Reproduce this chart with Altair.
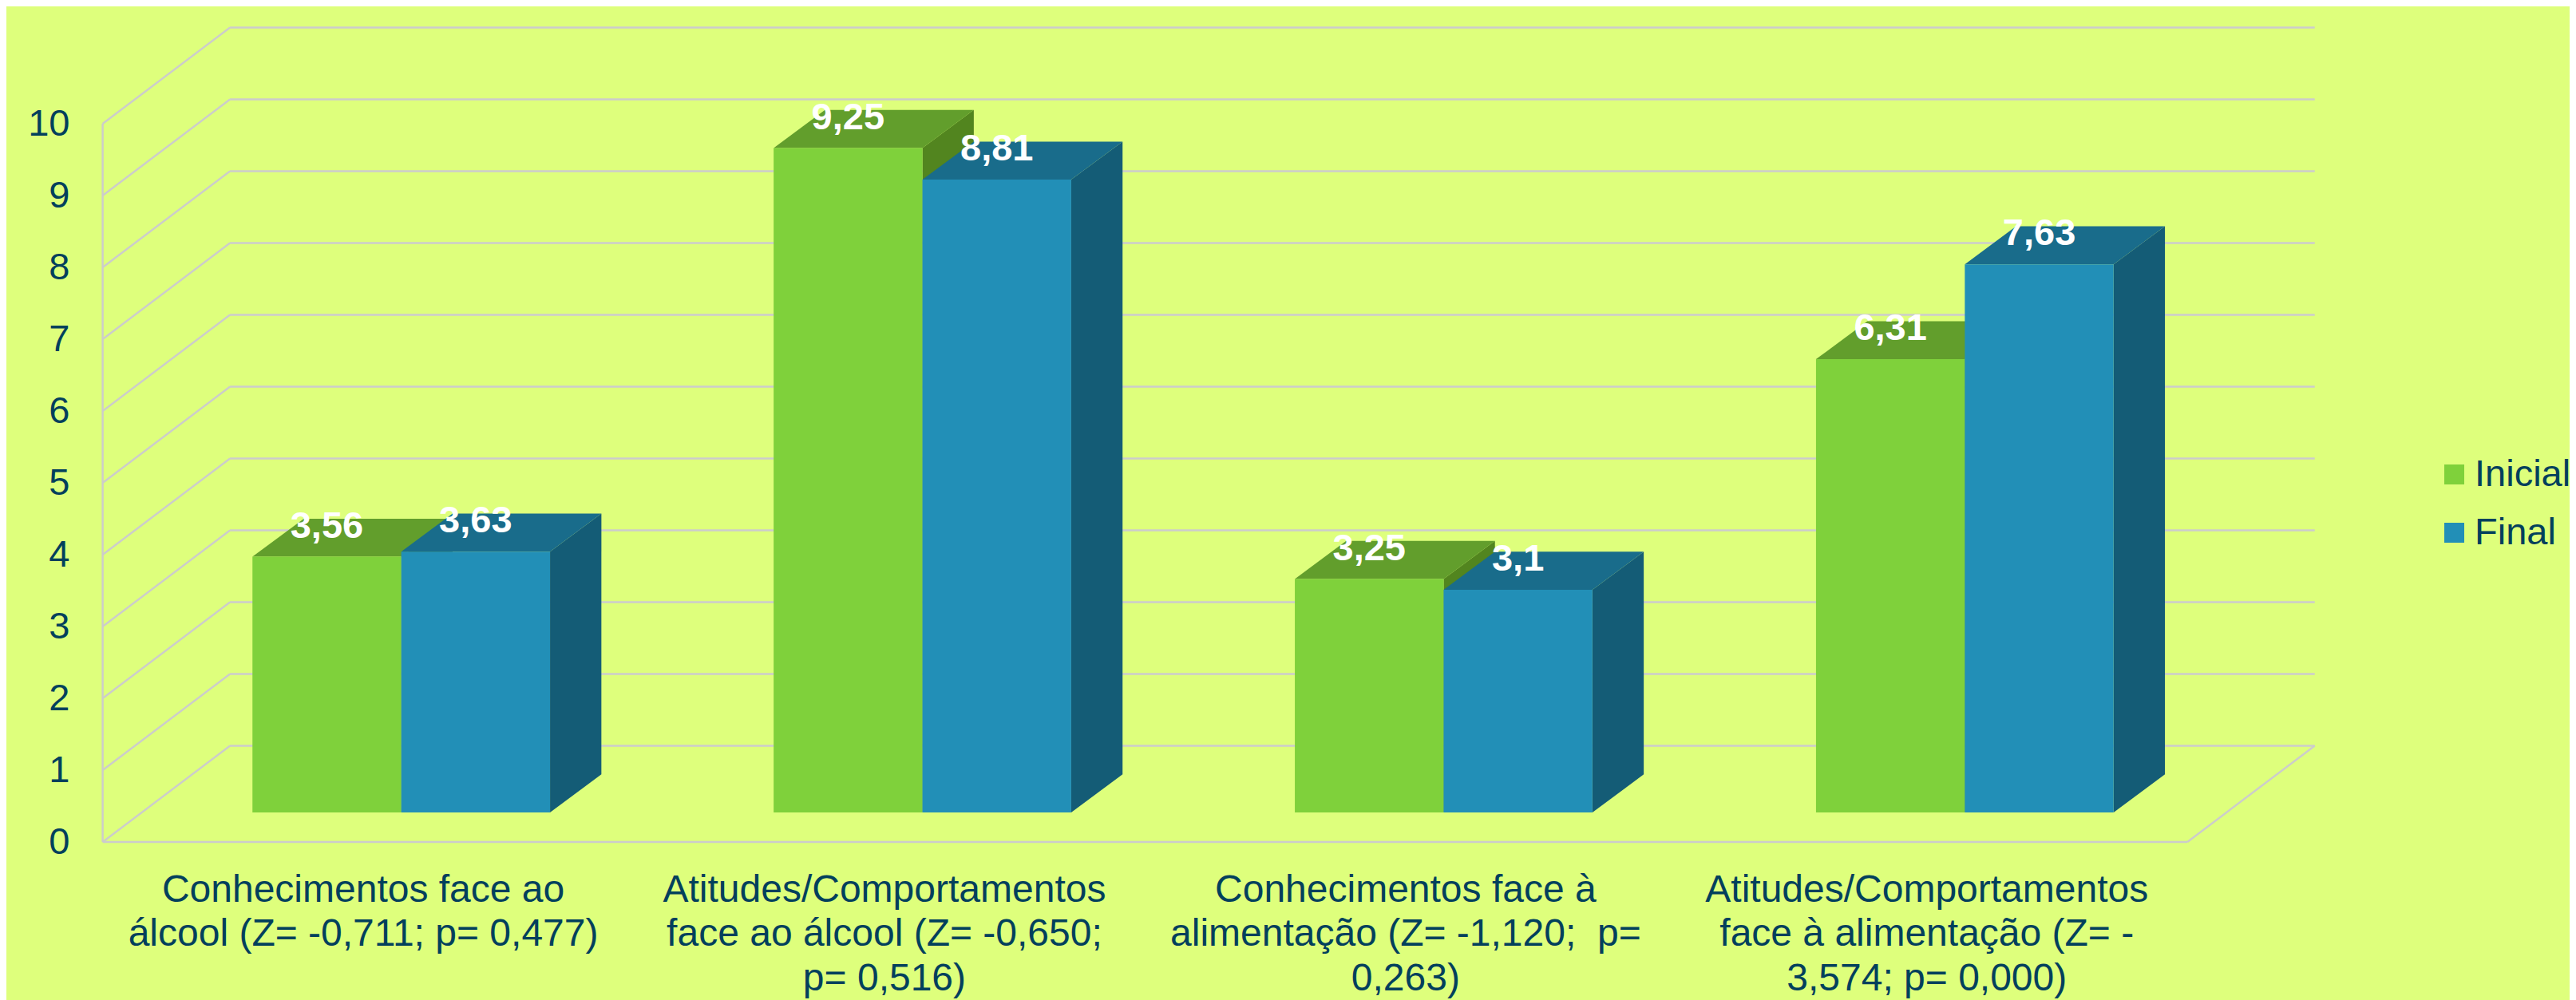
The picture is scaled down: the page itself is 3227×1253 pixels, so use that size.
import altair as alt
import pandas as pd

# ---- values ----
categories = [
    "Conhecimentos face ao\nálcool (Z= -0,711; p= 0,477)",
    "Atitudes/Comportamentos\nface ao álcool (Z= -0,650;\np= 0,516)",
    "Conhecimentos face à\nalimentação (Z= -1,120;\u00a0 p=\n0,263)",
    "Atitudes/Comportamentos\nface à alimentação (Z= -\n3,574; p= 0,000)",
]
series_names = ["Inicial", "Final"]
inicial = [3.56, 9.25, 3.25, 6.31]
final = [3.63, 8.81, 3.10, 7.63]
value_labels = {"Inicial": ["3,56", "9,25", "3,25", "6,31"],
                "Final": ["3,63", "8,81", "3,1", "7,63"]}
ticks = list(range(0, 11))

# ---- colours ----
BG = "#deff7c"
INK = "#02405c"
GRID = "#cccccc"
FRONT = ["#7fd13b", "#228fb7"]
TOP = ["#629e2c", "#196c8b"]
SIDE = ["#52851f", "#145c76"]

# ---- layout: chart size and scale domains (category units / value units) ----
W, H = 3211, 1245
PX_PER_CAT = 652.9
PX_PER_VAL = 90.0
X0, Y0 = 120.6, 1047.0           # where category 0 / value 0 fall on the front plane
x_domain = [-X0 / PX_PER_CAT, (W - X0) / PX_PER_CAT]
y_domain = [-(H - Y0) / PX_PER_VAL, Y0 / PX_PER_VAL]
x_scale = alt.Scale(domain=x_domain, range=[0, W], nice=False, zero=False)
y_scale = alt.Scale(domain=y_domain, range=[H, 0], nice=False, zero=False)

# 3-D projection offsets
WALL_DX, WALL_DY = 159.5 / PX_PER_CAT, 120.5 / PX_PER_VAL
BAR_X = 47.6 / PX_PER_CAT         # shift of bar front from the axis plane
BAR_Y = 37.0 / PX_PER_VAL
BAR_DX, BAR_DY = 64.3 / PX_PER_CAT, 47.7 / PX_PER_VAL
BAR_W = 186.4 / PX_PER_CAT
N = len(categories)

# ---- grid ----
grid_rows = []
for t in ticks:
    grid_rows.append(dict(x=0, x2=WALL_DX, y=t, y2=t + WALL_DY))                 # left wall
    grid_rows.append(dict(x=WALL_DX, x2=N + WALL_DX, y=t + WALL_DY, y2=t + WALL_DY))  # back wall
grid_rows.append(dict(x=0, x2=0, y=0, y2=ticks[-1]))                             # front vertical
grid_rows.append(dict(x=0, x2=N, y=0, y2=0))                                     # floor front
grid_rows.append(dict(x=N, x2=N + WALL_DX, y=0, y2=WALL_DY))                     # floor right
grid = pd.DataFrame(grid_rows)

# ---- bars ----
front_rows, top_rows, side_rows, label_rows = [], [], [], []
for s, vals in enumerate([inicial, final]):
    name = series_names[s]
    for i, v in enumerate(vals):
        left = i + 0.5 + BAR_X + (s - 1) * BAR_W
        right = left + BAR_W
        bid = f"{name}{i}"
        front_rows.append(dict(series=name, x=left, x2=right, y=BAR_Y, y2=BAR_Y + v))
        top_rows += [
            dict(s=s, bar=bid, y=BAR_Y + v, x=left, x2=right),
            dict(s=s, bar=bid, y=BAR_Y + v + BAR_DY, x=left + BAR_DX, x2=right + BAR_DX),
        ]
        side_rows += [
            dict(s=s, bar=bid, x=right, y=BAR_Y, y2=BAR_Y + v),
            dict(s=s, bar=bid, x=right + BAR_DX, y=BAR_Y + BAR_DY, y2=BAR_Y + BAR_DY + v),
        ]
        label_rows.append(dict(x=(left + right) / 2, y=BAR_Y + v, text=value_labels[name][i]))
front = pd.DataFrame(front_rows)
top = pd.DataFrame(top_rows)
side = pd.DataFrame(side_rows)
labels = pd.DataFrame(label_rows)
cats = pd.DataFrame({"x": [i + 0.5 for i in range(N)], "y": [-0.41] * N, "text": categories})

y_axis = alt.Axis(values=ticks, title=None, ticks=False, domain=False, grid=False,
                  offset=-79, labelPadding=0, labelFontSize=47, labelColor=INK,
                  labelFont="Liberation Sans", labelFlush=False, labelOverlap=False)
X = alt.X("x:Q", scale=x_scale, axis=None)
Y = alt.Y("y:Q", scale=y_scale, axis=y_axis)

grid_layer = alt.Chart(grid).mark_rule(color=GRID, strokeWidth=2.4).encode(
    x=X, x2="x2:Q", y=Y, y2="y2:Q",
)


def side_face(s):
    return alt.Chart(side[side.s == s]).mark_area(color=SIDE[s], orient="vertical").encode(
        x=X, y=Y, y2="y2:Q", detail="bar:N")


def top_face(s):
    return alt.Chart(top[top.s == s]).mark_area(color=TOP[s], orient="horizontal").encode(
        y=Y, x=X, x2="x2:Q", detail="bar:N")


front_layer = alt.Chart(front).mark_rect().encode(
    x=X, x2="x2:Q", y=Y, y2="y2:Q",
    color=alt.Color("series:N",
                    scale=alt.Scale(domain=series_names, range=FRONT),
                    legend=alt.Legend(orient="none", legendX=3043, legendY=563, title=None,
                                      symbolType="square", symbolSize=625, symbolStrokeWidth=0,
                                      labelFontSize=47, labelColor=INK, labelFont="Liberation Sans",
                                      labelOffset=2, rowPadding=25, padding=0)),
)

value_layer = alt.Chart(labels).mark_text(
    font="Liberation Sans", fontSize=47, fontWeight="bold", color="white", dy=-38
).encode(x=X, y=Y, text="text:N")

cat_layer = alt.Chart(cats).mark_text(
    font="Liberation Sans", fontSize=48, color=INK, lineBreak="\n", lineHeight=55.5,
    align="center", baseline="top"
).encode(x=X, y=Y, text="text:N")

chart = alt.layer(
    grid_layer,
    side_face(0), top_face(0), side_face(1), top_face(1),
    front_layer, value_layer, cat_layer,
).properties(
    width=W, height=H, background=BG, padding=0,
    autosize=alt.AutoSizeParams(type="none"),
).configure_view(stroke=None)

chart.save("out.html", embed_options={"renderer": "svg", "actions": False})
